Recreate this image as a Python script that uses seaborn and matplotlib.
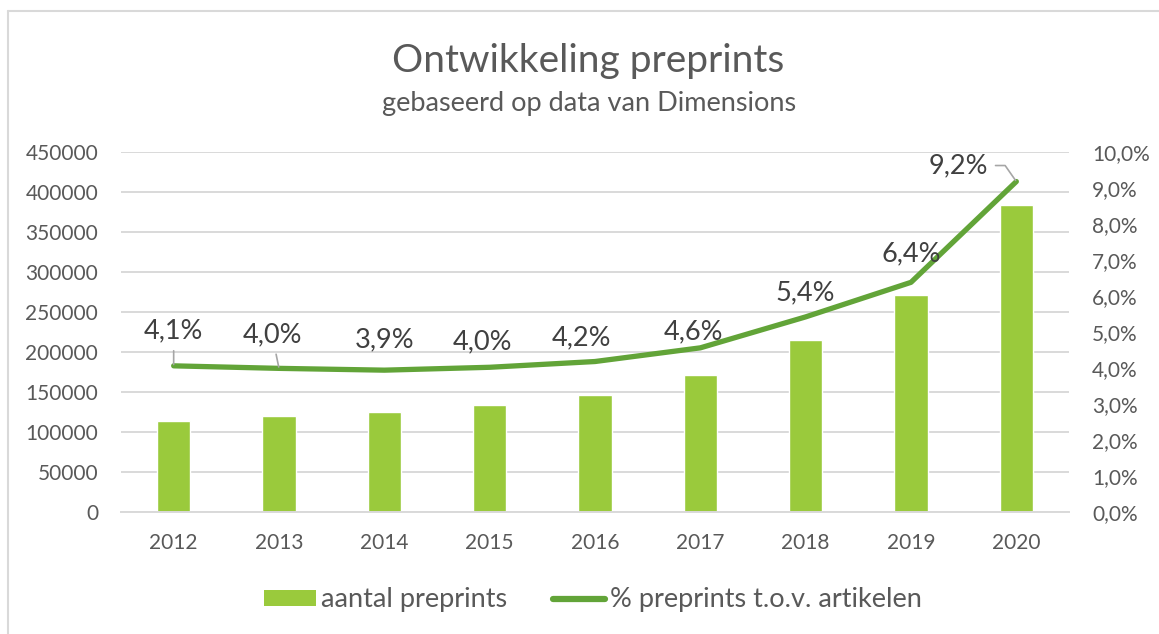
import numpy as np
import pandas as pd
import matplotlib
matplotlib.use("Agg")
import matplotlib.pyplot as plt
import seaborn as sns
from matplotlib.patches import Patch
from matplotlib.lines import Line2D
from matplotlib.ticker import FuncFormatter, MultipleLocator

# Data
years = ["2012", "2013", "2014", "2015", "2016", "2017", "2018", "2019", "2020"]
preprints = [113600, 120200, 124800, 133600, 146100, 171500, 215000, 271300, 384000]
pct_of_articles = [4.06, 3.99, 3.94, 4.02, 4.18, 4.56, 5.42, 6.38, 9.18]

# label offsets in pixels (dx, dy) and whether Excel drew a leader line
label_offsets = [(0, 35), (-7, 34), (0, 30), (-7, 25), (-14, 24), (-7, 16), (0, 24), (0, 29), (-58, 16)]
leader_lines = [True, True, False, False, False, False, False, False, True]

BAR_COLOR = "#9ACA3C"
LINE_COLOR = "#62A438"
TEXT_COLOR = "#595959"
GRID_COLOR = "#D9D9D9"

sns.set_style("white")
plt.rcParams["font.family"] = ["Lato", "DejaVu Sans"]

W, H = 1159, 634
fig = plt.figure(figsize=(W / 100, H / 100), dpi=100)
ax = fig.add_axes([121 / W, 1 - 512 / H, (1069 - 121) / W, (512 - 152) / H])

df = pd.DataFrame({"year": years, "preprints": preprints, "pct": pct_of_articles})

sns.barplot(data=df, x="year", y="preprints", color=BAR_COLOR, saturation=1,
            width=0.315, ax=ax, zorder=2)
ax.set_xlim(-0.5, len(years) - 0.5)
ax.set_ylim(0, 450000)
ax.yaxis.set_major_locator(MultipleLocator(50000))
ax.yaxis.grid(True, color=GRID_COLOR, linewidth=1.4, zorder=0)
ax.set_axisbelow(True)
ax.set_xlabel("")
ax.set_ylabel("")
for s in ["top", "right", "left"]:
    ax.spines[s].set_visible(False)
ax.spines["bottom"].set_color(GRID_COLOR)
ax.spines["bottom"].set_linewidth(1.4)
ax.tick_params(axis="both", length=0, labelsize=15, colors=TEXT_COLOR)
ax.tick_params(axis="y", pad=16.5)
ax.tick_params(axis="x", pad=15)

# Percentage line on a second axis
ax2 = ax.twinx()
x_pos = np.arange(len(years))
sns.lineplot(x=x_pos, y=df["pct"], color=LINE_COLOR, linewidth=3.8, ax=ax2,
             solid_capstyle="round", solid_joinstyle="round", zorder=3)
ax2.set_ylim(0, 10)
ax2.yaxis.set_major_locator(MultipleLocator(1))
ax2.yaxis.set_major_formatter(FuncFormatter(lambda v, p: f"{v:.1f}".replace(".", ",") + "%"))
ax2.set_ylabel("")
for s in ["top", "right", "left", "bottom"]:
    ax2.spines[s].set_visible(False)
ax2.tick_params(axis="y", length=0, labelsize=15, colors=TEXT_COLOR, pad=16.5)

# Data labels
for i, (v, (dx, dy), lead) in enumerate(zip(pct_of_articles, label_offsets, leader_lines)):
    txt = f"{v:.1f}".replace(".", ",") + "%"
    props = None
    if lead:
        props = dict(arrowstyle="-", color="#A6A6A6", lw=1.2, shrinkA=3, shrinkB=1)
        if i == len(years) - 1:
            props["relpos"] = (1, 0.5)
            props["connectionstyle"] = "angle,angleA=0,angleB=125,rad=0"
    ax2.annotate(txt, xy=(i, v), xytext=(dx, dy), textcoords="offset pixels",
                 ha="center", va="center", fontsize=19.5, color="#404040",
                 arrowprops=props)

# Titles
fig.text(588 / W, 1 - 61 / H, "Ontwikkeling preprints", ha="center", va="center",
         fontsize=28, color=TEXT_COLOR)
fig.text(589 / W, 1 - 104 / H, "gebaseerd op data van Dimensions", ha="center",
         va="center", fontsize=19.5, color=TEXT_COLOR)

# Legend
handles = [Patch(facecolor=BAR_COLOR, edgecolor="none"),
           Line2D([0], [0], color=LINE_COLOR, linewidth=4.5, solid_capstyle="round")]
fig.legend(handles, ["aantal preprints", "% preprints t.o.v. artikelen"],
           loc="center", bbox_to_anchor=(593 / W, 1 - 600 / H), ncol=2,
           frameon=False, fontsize=19.5, labelcolor=TEXT_COLOR,
           handlelength=1.9, handleheight=0.55, handletextpad=0.2, columnspacing=1.7)

# Chart border (only left and top visible in the crop)
fig.add_artist(Line2D([7.5 / W, 7.5 / W], [0, 1 - 11 / H], color=GRID_COLOR, lw=1.5))
fig.add_artist(Line2D([7.5 / W, 1], [1 - 11 / H, 1 - 11 / H], color=GRID_COLOR, lw=1.5))

fig.savefig("out.png", dpi=100)
